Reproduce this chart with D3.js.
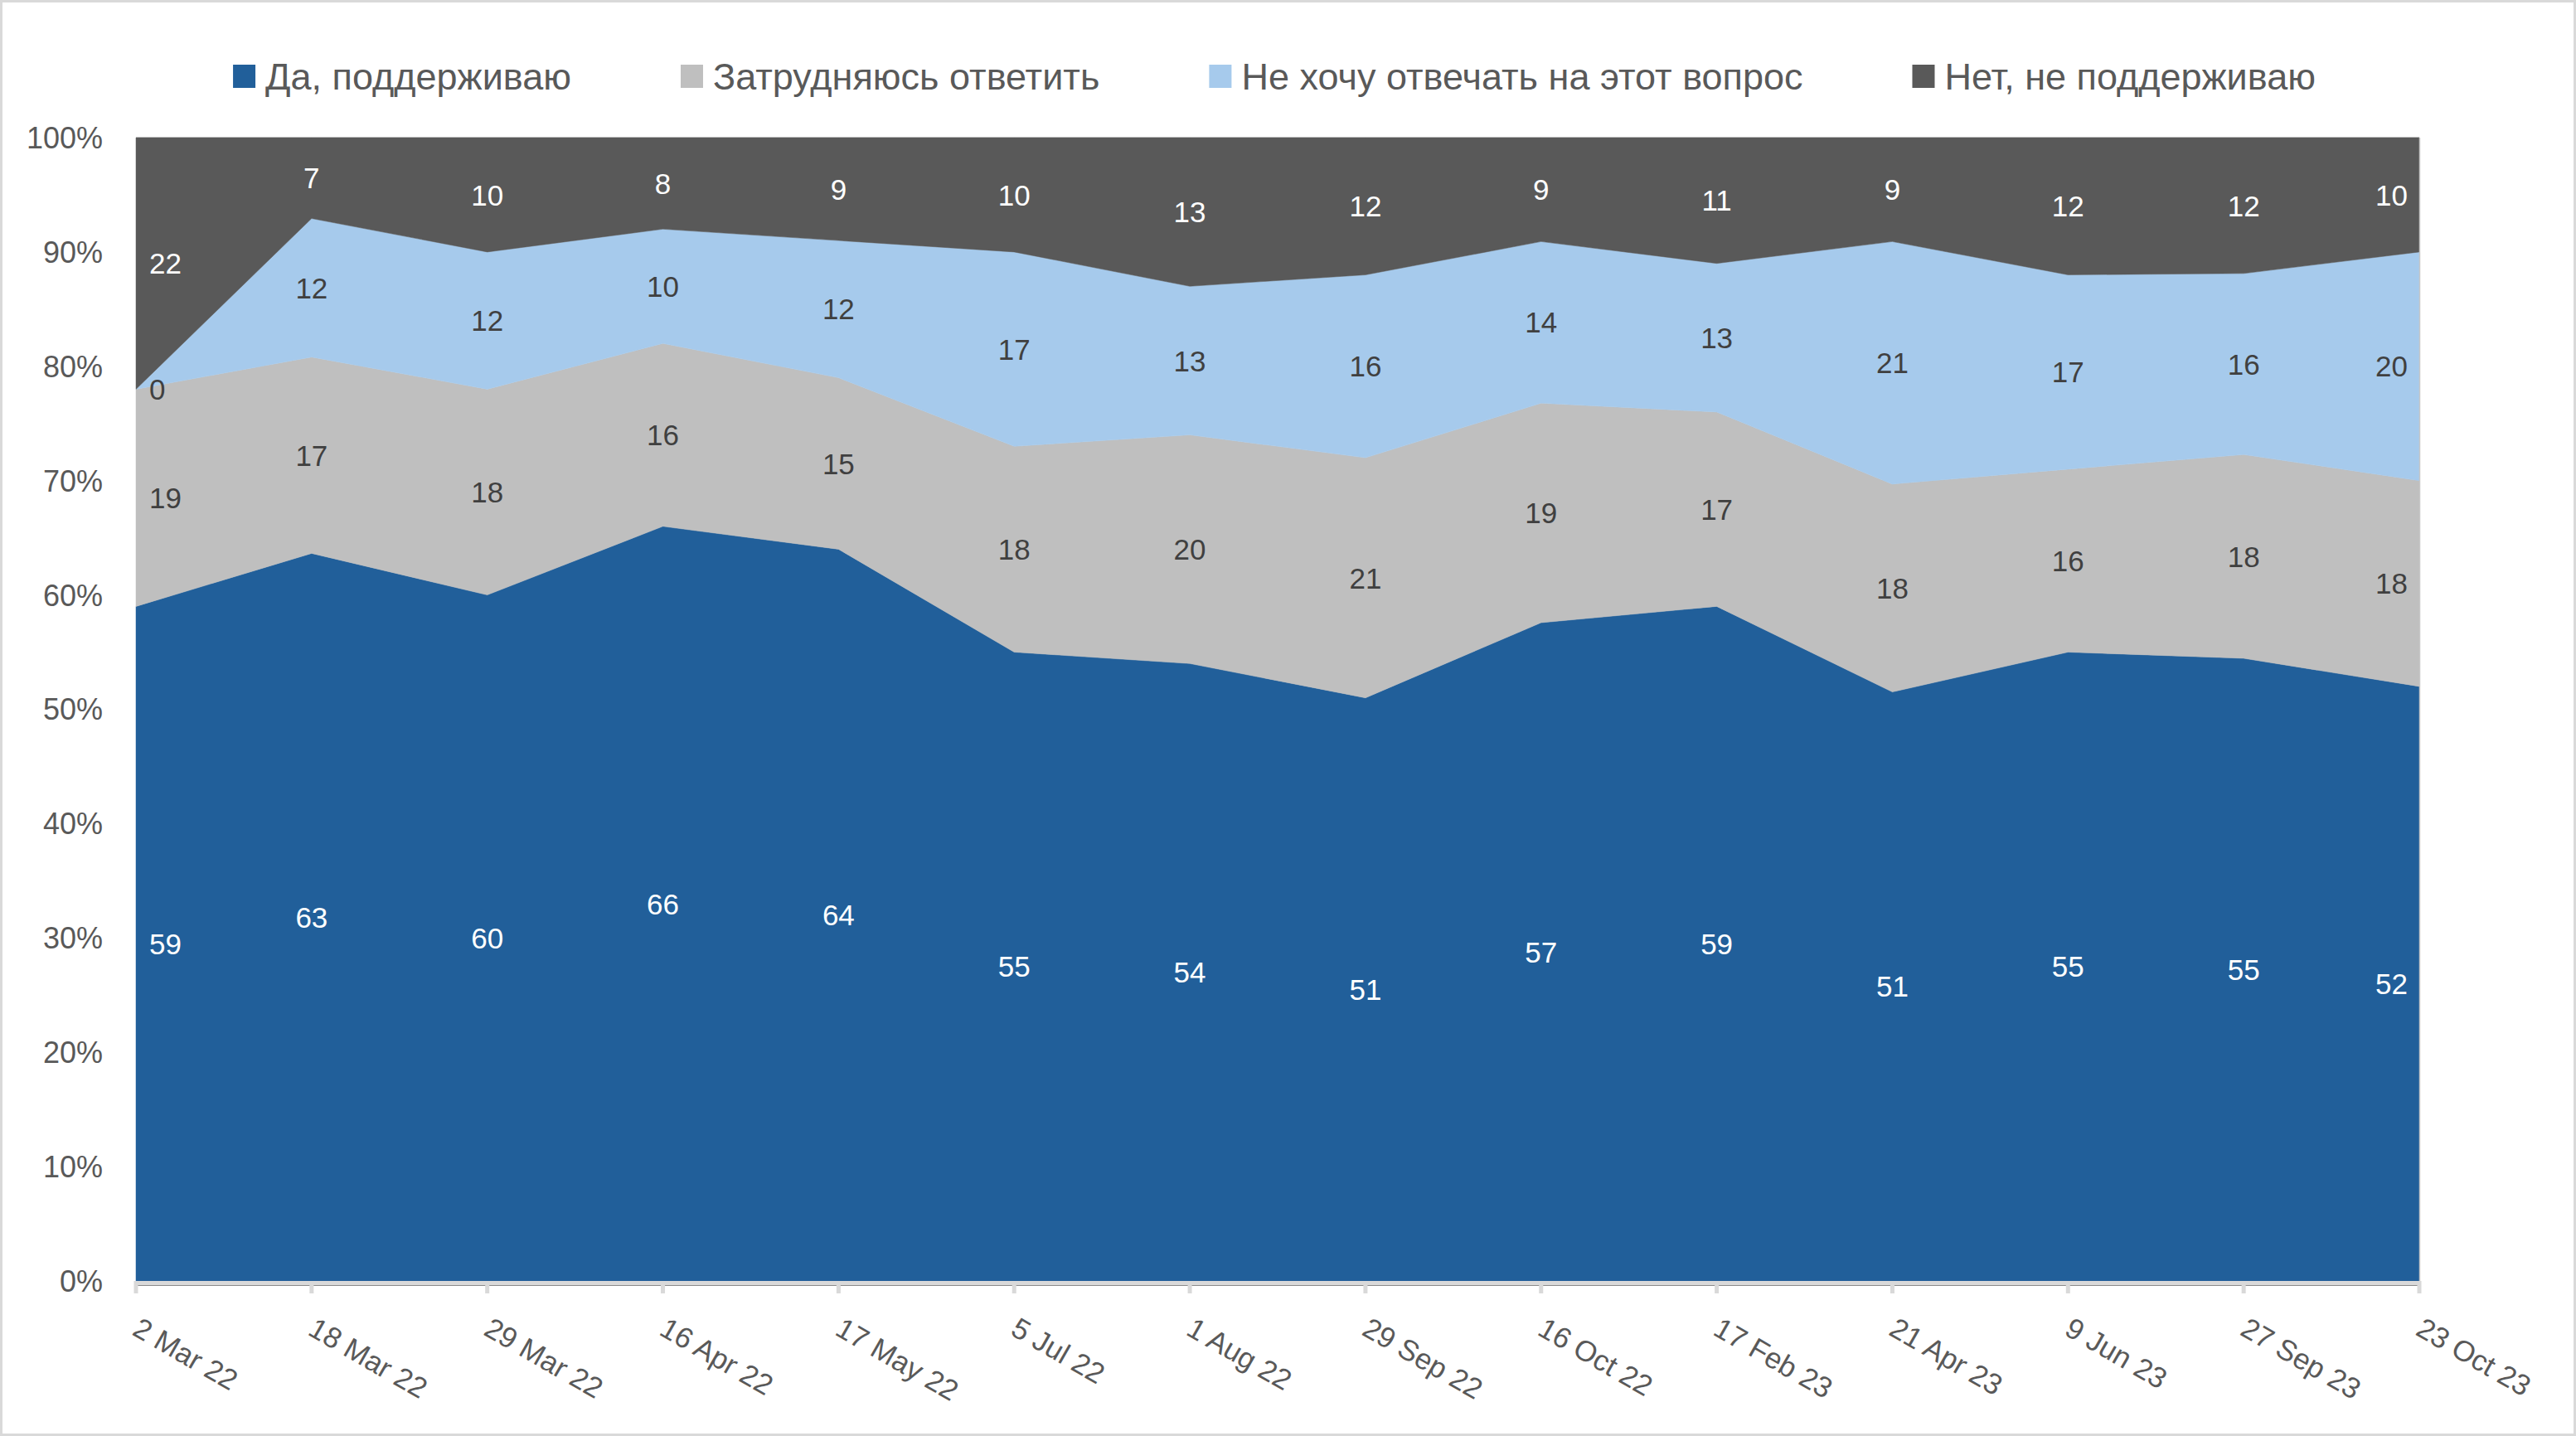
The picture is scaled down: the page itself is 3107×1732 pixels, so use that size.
<!DOCTYPE html>
<html>
<head>
<meta charset="utf-8">
<script src="https://cdn.jsdelivr.net/npm/d3@7"></script>
<style>
  html, body { margin: 0; padding: 0; background: #fff; }
  svg { display: block; font-family: "Liberation Sans", Arial, sans-serif; }
</style>
</head>
<body>
<div id="chart"></div>
<script>
//svg size
const width = 3107;
const height = 1732;
const margin = { top: 166, right: 189, bottom: 187, left: 164 };
const innerWidth = width - margin.left - margin.right;
const innerHeight = height - margin.top - margin.bottom;

//data
const dates = [
  "2 Mar 22", "18 Mar 22", "29 Mar 22", "16 Apr 22", "17 May 22", "5 Jul 22",
  "1 Aug 22", "29 Sep 22", "16 Oct 22", "17 Feb 23", "21 Apr 23", "9 Jun 23",
  "27 Sep 23", "23 Oct 23",
];
const support = [59, 63, 60, 66, 64, 55, 54, 51, 57, 59, 51, 55, 55, 52];
const hardToSay = [19, 17, 18, 16, 15, 18, 20, 21, 19, 17, 18, 16, 18, 18];
const noAnswer = [0, 12, 12, 10, 12, 17, 13, 16, 14, 13, 21, 17, 16, 20];
const against = [22, 7, 10, 8, 9, 10, 13, 12, 9, 11, 9, 12, 12, 10];

const seriesNames = [
  "Да, поддерживаю",
  "Затрудняюсь ответить",
  "Не хочу отвечать на этот вопрос",
  "Нет, не поддерживаю",
];
const yTicks = [0, 0.1, 0.2, 0.3, 0.4, 0.5, 0.6, 0.7, 0.8, 0.9, 1];

//styles
const colors = ["#215F9A", "#BFBFBF", "#A6CAEC", "#595959"];
const labelColors = ["#ffffff", "#404040", "#404040", "#ffffff"];
const axisTextColor = "#595959";

const rows = dates.map((d, i) => ({
  date: d,
  s0: support[i],
  s1: hardToSay[i],
  s2: noAnswer[i],
  s3: against[i],
}));
const keys = ["s0", "s1", "s2", "s3"];

//100% stacked
const series = d3.stack().keys(keys).offset(d3.stackOffsetExpand)(rows);

const svg = d3
  .select("#chart")
  .append("svg")
  .attr("width", width)
  .attr("height", height);

//chart area border
svg
  .append("rect")
  .attr("x", 1.5)
  .attr("y", 1.5)
  .attr("width", width - 3)
  .attr("height", height - 3)
  .attr("fill", "#fff")
  .attr("stroke", "#D9D9D9")
  .attr("stroke-width", 3);

const g = svg
  .append("g")
  .attr("transform", `translate(${margin.left},${margin.top})`);

const x = d3.scalePoint().domain(dates).range([0, innerWidth]);
const y = d3.scaleLinear().domain([0, 1]).range([innerHeight, 0]);

//gridlines
g.append("g")
  .selectAll("line")
  .data(yTicks)
  .join("line")
  .attr("x1", 0)
  .attr("x2", innerWidth)
  .attr("y1", (d) => y(d))
  .attr("y2", (d) => y(d))
  .attr("stroke", "#D9D9D9")
  .attr("stroke-width", 2);

//areas
const area = d3
  .area()
  .x((d) => x(d.data.date))
  .y0((d) => y(d[0]))
  .y1((d) => y(d[1]));

g.append("g")
  .selectAll("path")
  .data(series)
  .join("path")
  .attr("fill", (d, i) => colors[i])
  .attr("stroke", (d, i) => colors[i])
  .attr("stroke-width", 0.5)
  .attr("d", area);

//right edge
g.append("line")
  .attr("x1", innerWidth + 0.5)
  .attr("x2", innerWidth + 0.5)
  .attr("y1", 0)
  .attr("y2", innerHeight)
  .attr("stroke", "#C8C8C8")
  .attr("stroke-width", 1.5);

//x axis
const xAxis = g.append("g").attr("transform", `translate(0,${innerHeight})`);
xAxis
  .append("line")
  .attr("x1", 0)
  .attr("x2", innerWidth)
  .attr("y1", 2.5)
  .attr("y2", 2.5)
  .attr("stroke", "#D9D9D9")
  .attr("stroke-width", 5);
xAxis
  .append("line")
  .attr("x1", 0)
  .attr("x2", innerWidth)
  .attr("y1", 5.5)
  .attr("y2", 5.5)
  .attr("stroke", "#8C8C8C")
  .attr("stroke-width", 1);
xAxis
  .selectAll("line.tick")
  .data(dates)
  .join("line")
  .attr("class", "tick")
  .attr("x1", (d) => x(d))
  .attr("x2", (d) => x(d))
  .attr("y1", 0)
  .attr("y2", 15)
  .attr("stroke", "#D9D9D9")
  .attr("stroke-width", 5);
xAxis
  .selectAll("text")
  .data(dates)
  .join("text")
  .attr("transform", (d) => `translate(${x(d) - 6},64) rotate(30)`)
  .attr("text-anchor", "start")
  .attr("fill", axisTextColor)
  .attr("font-size", 35)
  .text((d) => d);

//y axis
g.append("g")
  .selectAll("text")
  .data(yTicks)
  .join("text")
  .attr("x", -40)
  .attr("y", (d) => y(d))
  .attr("dy", "0.36em")
  .attr("text-anchor", "end")
  .attr("fill", axisTextColor)
  .attr("font-size", 36)
  .text((d) => d3.format(".0%")(d));

//data labels, kept inside the plot at both ends
const last = dates.length - 1;
series.forEach((s, si) => {
  g.append("g")
    .selectAll("text")
    .data(s)
    .join("text")
    .attr("x", (d, i) =>
      i === 0 ? 16 : i === last ? innerWidth - 14 : x(d.data.date)
    )
    .attr("y", (d) => y((d[0] + d[1]) / 2))
    .attr("dy", "0.36em")
    .attr("text-anchor", (d, i) =>
      i === 0 ? "start" : i === last ? "end" : "middle"
    )
    .attr("fill", labelColors[si])
    .attr("font-size", 35)
    .text((d) => d.data[keys[si]]);
});

//legend
const legend = svg.append("g").attr("transform", `translate(0,92)`);
const items = legend
  .selectAll("g.item")
  .data(seriesNames)
  .join("g")
  .attr("class", "item");
items
  .append("rect")
  .attr("x", 0)
  .attr("y", -14)
  .attr("width", 27)
  .attr("height", 28)
  .attr("fill", (d, i) => colors[i]);
items
  .append("text")
  .attr("x", 39)
  .attr("y", 0)
  .attr("dy", "0.35em")
  .attr("fill", axisTextColor)
  .attr("font-size", 45)
  .text((d) => d);

//lay out legend items in a row, centred
const itemGap = 132;
const widths = [];
items.each(function () {
  widths.push(39 + d3.select(this).select("text").node().getComputedTextLength());
});
const total = d3.sum(widths) + itemGap * (widths.length - 1);
let cursor = 1537 - total / 2;
items.attr("transform", (d, i) => {
  const t = `translate(${cursor},0)`;
  cursor += widths[i] + itemGap;
  return t;
});
</script>
</body>
</html>
